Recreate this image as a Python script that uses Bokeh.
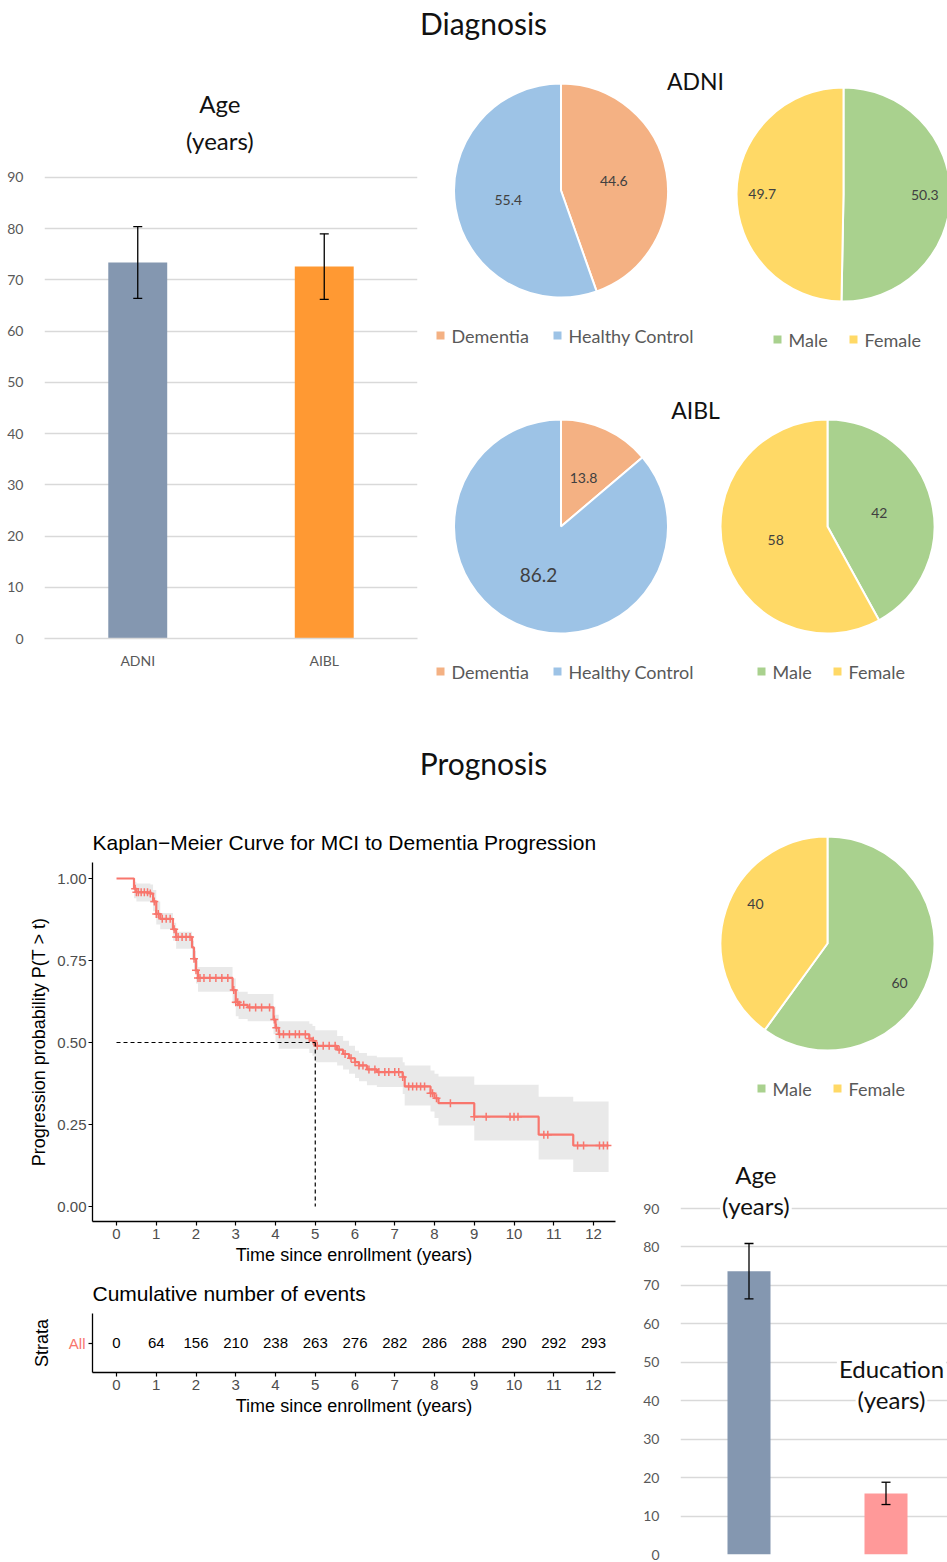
import numpy as np
from bokeh.plotting import figure
from bokeh.layouts import column, row
from bokeh.models import (ColumnDataSource, Range1d, FixedTicker, Whisker, TeeHead,
                          NumeralTickFormatter)
from bokeh.embed import file_html
from bokeh.resources import INLINE
from bokeh.core.properties import value

# ------------------------------------------------------------------ data
age_groups = ["ADNI", "AIBL"]
age_mean = [73.4, 72.6]
age_sd = [7.0, 6.4]

dx_labels = ["Dementia", "Healthy Control"]
adni_dx = [44.6, 55.4]
aibl_dx = [13.8, 86.2]

sex_labels = ["Male", "Female"]
adni_sex = [50.3, 49.7]
aibl_sex = [42, 58]
mci_sex = [60, 40]

mci_vars = ["Age", "Education"]
mci_mean = [73.7, 15.9]
mci_sd = [7.2, 2.9]

km_time = [0, 0.44, 0.5, 0.85, 0.92, 1.0, 1.1, 1.42, 1.5, 1.9, 1.95, 2.0, 2.05,
           2.92, 3.0, 3.07, 3.3, 3.95, 4.0, 4.08, 4.85, 4.93, 5.0, 5.55, 5.7,
           5.85, 6.0, 6.1, 6.3, 6.55, 7.2, 7.25, 7.9, 8.0, 8.1, 9.0, 10.62,
           11.49, 12.38]
km_surv = [1.0, 0.969, 0.958, 0.954, 0.93, 0.892, 0.877, 0.845, 0.822, 0.79,
           0.755, 0.72, 0.697, 0.66, 0.623, 0.615, 0.607, 0.57, 0.545, 0.525,
           0.512, 0.505, 0.49, 0.478, 0.465, 0.452, 0.44, 0.43, 0.418, 0.41,
           0.395, 0.366, 0.345, 0.33, 0.315, 0.274, 0.219, 0.186, 0.186]
km_lower = [1.0, 0.94, 0.93, 0.925, 0.9, 0.86, 0.845, 0.81, 0.786, 0.752,
            0.716, 0.68, 0.655, 0.617, 0.58, 0.572, 0.565, 0.525, 0.5, 0.481,
            0.468, 0.46, 0.44, 0.43, 0.418, 0.405, 0.392, 0.382, 0.37, 0.364,
            0.343, 0.308, 0.29, 0.27, 0.247, 0.201, 0.143, 0.105, 0.105]
km_upper = [1.0, 0.99, 0.985, 0.982, 0.965, 0.93, 0.895, 0.865, 0.838, 0.81,
            0.78, 0.75, 0.73, 0.695, 0.66, 0.655, 0.648, 0.61, 0.585, 0.565,
            0.557, 0.55, 0.537, 0.52, 0.505, 0.49, 0.475, 0.468, 0.46, 0.455,
            0.44, 0.43, 0.415, 0.405, 0.396, 0.371, 0.335, 0.32, 0.32]
censor_time = [0.47, 0.5, 0.55, 0.62, 0.7, 0.78, 0.85, 0.95, 1.0, 1.05, 1.15,
               1.25, 1.35, 1.45, 1.5, 1.55, 1.65, 1.75, 1.85, 1.95, 2.0, 2.05,
               2.1, 2.2, 2.35, 2.5, 2.65, 2.8, 2.95, 3.0, 3.05, 3.1, 3.2, 3.35,
               3.5, 3.65, 3.85, 3.97, 4.02, 4.1, 4.2, 4.35, 4.5, 4.6, 4.75,
               4.85, 4.95, 5.05, 5.2, 5.35, 5.5, 5.6, 5.75, 5.9, 6.0, 6.1, 6.2,
               6.35, 6.5, 6.6, 6.75, 6.85, 7.0, 7.1, 7.2, 7.35, 7.45, 7.55,
               7.65, 7.75, 7.9, 7.95, 8.05, 8.4, 9.0, 9.3, 9.9, 10.0, 10.1,
               10.75, 10.85, 11.6, 11.75, 12.15, 12.25, 12.35]

risk_time = list(range(13))
risk_events = [0, 64, 156, 210, 238, 263, 276, 282, 286, 288, 290, 292, 293]

# ------------------------------------------------------------------ style
XL = "Lato"
RF = "Liberation Sans"
GRID = "#d9d9d9"
TICK = "#595959"
LBL = "#404040"
KM_RED = "#F8766D"
DX_COL = ["#F4B183", "#9DC3E6"]
SEX_COL = ["#A9D18E", "#FFD966"]
BAR1_COL = ["#8497B0", "#FF9933"]
BAR2_COL = ["#8497B0", "#FF9999"]


def blank(w, h, left=0):
    return figure(width=w, height=h, x_range=Range1d(0, w - left), y_range=Range1d(0, h),
                  x_axis_type=None, y_axis_type=None, toolbar_location=None,
                  output_backend="svg", min_border=0, min_border_left=left,
                  outline_line_color=None)


def heading(p, x, y, txt, size):
    p.text(x=[x], y=[y], text=[txt], text_font=value(XL), text_font_size=size,
           text_color="#111111", text_align="center", text_baseline="middle")


def pie(p, cx, cy, r, vals, colors, frac, sizes, shift=0.0):
    total = float(sum(vals))
    cum = np.cumsum([0.0] + list(vals)) / total
    start = np.pi / 2 - 2 * np.pi * cum[:-1]
    end = np.pi / 2 - 2 * np.pi * cum[1:]
    p.wedge(x=cx, y=cy, radius=r, start_angle=start, end_angle=end,
            direction="clock", fill_color=colors, line_color="white", line_width=2)
    mid = (start + end) / 2 - np.deg2rad(shift)
    p.text(x=cx + frac * r * np.cos(mid), y=cy + frac * r * np.sin(mid),
           text=[f"{v:g}" for v in vals], text_font=value(XL),
           text_font_size=sizes, text_color=LBL, text_align="center",
           text_baseline="middle")


def legend(p, xs, y, names, colors):
    xs = np.array(xs, dtype=float)
    p.scatter(x=xs, y=y, marker="square", size=8, fill_color=colors, line_color=None)
    p.text(x=xs + 11, y=y, text=names, text_font=value(XL), text_font_size="18px",
           text_color=TICK, text_align="left", text_baseline="middle")


def excel_bars(p, cats, means, sds, colors, width):
    idx = list(range(len(cats)))
    src = ColumnDataSource(dict(x=idx, top=means, color=colors,
                                lo=[m - s for m, s in zip(means, sds)],
                                hi=[m + s for m, s in zip(means, sds)]))
    p.vbar(x="x", top="top", width=width, fill_color="color", line_color=None, source=src)
    w = Whisker(base="x", lower="lo", upper="hi", source=src,
                line_color="black", line_width=1.3, level="overlay",
                upper_head=TeeHead(size=9, line_color="black", line_width=1.3),
                lower_head=TeeHead(size=9, line_color="black", line_width=1.3))
    p.add_layout(w)
    p.yaxis.ticker = FixedTicker(ticks=list(range(0, 91, 10)))
    p.yaxis.axis_line_color = None
    p.yaxis.major_tick_line_color = None
    p.yaxis.minor_tick_line_color = None
    p.yaxis.major_label_text_font = XL
    p.yaxis.major_label_text_font_size = "14px"
    p.yaxis.major_label_text_color = TICK
    p.yaxis.major_label_standoff = 15
    p.ygrid.grid_line_color = GRID
    p.ygrid.grid_line_width = 1.3


# ------------------------------------------------------------------ headers
h1 = blank(947, 55)
heading(h1, 483, 33, "Diagnosis", "30px")
h2 = blank(947, 100)
heading(h2, 483, 38, "Prognosis", "30px")

# ------------------------------------------------------------------ bar chart 1
b1 = figure(width=430, height=645, x_range=Range1d(-0.5, 1.5), y_range=Range1d(0, 113.8),
            toolbar_location=None, output_backend="svg", outline_line_color=None,
            min_border_left=44, min_border_right=13, min_border_top=0, min_border_bottom=62)
excel_bars(b1, age_groups, age_mean, age_sd, BAR1_COL, 0.316)
b1.xgrid.visible = False
b1.xaxis.ticker = FixedTicker(ticks=list(range(len(age_groups))))
b1.xaxis.major_label_overrides = {i: g for i, g in enumerate(age_groups)}
b1.xaxis.axis_line_color = GRID
b1.xaxis.axis_line_width = 1.3
b1.xaxis.major_tick_line_color = None
b1.xaxis.minor_tick_line_color = None
b1.xaxis.major_label_text_font = XL
b1.xaxis.major_label_text_font_size = "14px"
b1.xaxis.major_label_text_color = TICK
b1.xaxis.major_label_standoff = 7
b1.text(x=[0.44, 0.44], y=[104.4, 97.2], text=["Age", "(years)"], text_font=value(XL),
        text_font_size="24px", text_color="#111111", text_align="center",
        text_baseline="middle")

# ------------------------------------------------------------------ ADNI pies
pa = blank(517, 310)
heading(pa, 265, 285, "ADNI", "23px")
pie(pa, 130.5, 175, 107, adni_dx, DX_COL, 0.5, ["14px", "14px"])
pie(pa, 413, 171, 107, adni_sex, SEX_COL, 0.76, ["14px", "14px"])
legend(pa, [10, 127], 30, dx_labels, DX_COL)
legend(pa, [347, 423], 26, sex_labels, SEX_COL)

# ------------------------------------------------------------------ AIBL pies
pb = blank(517, 335)
heading(pb, 265, 291, "AIBL", "23px")
pie(pb, 130.5, 174, 107, aibl_dx, DX_COL, 0.5, ["14px", "19px"])
pie(pb, 397, 174, 107, aibl_sex, SEX_COL, 0.5, ["14px", "14px"])
legend(pb, [10, 127], 29, dx_labels, DX_COL)
legend(pb, [331, 407], 29, sex_labels, SEX_COL)

# ------------------------------------------------------------------ Kaplan-Meier
def r_axes(p):
    for ax in p.axis:
        ax.axis_line_color = "black"
        ax.axis_line_width = 1.3
        ax.major_tick_line_color = "black"
        ax.major_tick_line_width = 1.2
        ax.major_tick_in = 0
        ax.major_tick_out = 4
        ax.minor_tick_line_color = None
        ax.major_label_text_font = RF
        ax.major_label_text_font_size = "15px"
        ax.major_label_text_color = "#4d4d4d"
        ax.axis_label_text_font = RF
        ax.axis_label_text_font_size = "18px"
        ax.axis_label_text_font_style = "normal"
        ax.axis_label_text_color = "black"
    p.grid.visible = False
    p.title.text_font = RF
    p.title.text_font_size = "21px"
    p.title.text_font_style = "normal"
    p.title.text_color = "black"
    p.title.align = "left"
    p.title.standoff = 18


xr = Range1d(-0.604, 12.553)
km = figure(width=620, height=470, x_range=xr, y_range=Range1d(-0.0457, 1.0488),
            toolbar_location=None, output_backend="svg", outline_line_color=None,
            min_border_left=92, min_border_right=5, min_border_top=62, min_border_bottom=49,
            title="Kaplan\u2212Meier Curve for MCI to Dementia Progression")
r_axes(km)
km.xaxis.ticker = FixedTicker(ticks=risk_time)
km.yaxis.ticker = FixedTicker(ticks=[0, 0.25, 0.5, 0.75, 1.0])
km.yaxis.formatter = NumeralTickFormatter(format="0.00")
km.xaxis.axis_label = "Time since enrollment (years)"
km.yaxis.axis_label = "Progression probability P(T > t)"
km.xaxis.major_label_standoff = 3
km.xaxis.axis_label_standoff = 3
km.yaxis.major_label_standoff = 2
km.yaxis.axis_label_standoff = 5

km.varea_step(x=km_time, y1=km_lower, y2=km_upper, step_mode="after",
              fill_color="#e3e3e3", fill_alpha=0.8)
km.step(x=km_time, y=km_surv, mode="after", line_color=KM_RED, line_width=2.2)
idx = np.searchsorted(np.array(km_time), np.array(censor_time), side="right") - 1
censor_surv = np.array(km_surv)[idx]
km.scatter(x=censor_time, y=censor_surv, marker="cross", size=8,
           line_color=KM_RED, line_width=1.5)
med_t = km_time[next(i for i, s in enumerate(km_surv) if s <= 0.5)]
km.line(x=[0, med_t], y=[0.5, 0.5], line_color="black", line_dash="4 3", line_width=1.2)
km.line(x=[med_t, med_t], y=[0.5, 0], line_color="black", line_dash="4 3", line_width=1.2)

# ------------------------------------------------------------------ risk table
rt = figure(width=620, height=150, x_range=xr, y_range=Range1d(0, 2),
            toolbar_location=None, output_backend="svg", outline_line_color=None,
            min_border_left=92, min_border_right=5, min_border_top=42, min_border_bottom=48,
            title="Cumulative number of events")
r_axes(rt)
rt.xaxis.ticker = FixedTicker(ticks=risk_time)
rt.yaxis.ticker = FixedTicker(ticks=[1])
rt.yaxis.major_label_overrides = {1: "All"}
rt.yaxis.major_label_text_color = KM_RED
rt.yaxis.major_label_standoff = 3
rt.yaxis.axis_label = "Strata"
rt.yaxis.axis_label_standoff = 14
rt.xaxis.axis_label = "Time since enrollment (years)"
rt.xaxis.major_label_standoff = 3
rt.xaxis.axis_label_standoff = 3
rt.text(x=risk_time, y=[1] * len(risk_time), text=[str(v) for v in risk_events],
        text_font=value(RF), text_font_size="15px", text_color="black",
        text_align="center", text_baseline="middle")

# ------------------------------------------------------------------ MCI pie
# frame aligned with the bar chart below (left border 60 px)
pc = blank(327, 310, left=60)
pie(pc, 147, 167, 107, mci_sex, SEX_COL, 0.77, ["14px", "14px"], shift=11)
legend(pc, [81, 157], 22, sex_labels, SEX_COL)

# ------------------------------------------------------------------ bar chart 2
b2 = figure(width=327, height=452, x_range=Range1d(-0.5, -0.5 + 267 / 137),
            y_range=Range1d(0, 115.5), x_axis_type=None,
            toolbar_location=None, output_backend="svg", outline_line_color=None,
            min_border_left=60, min_border_right=0, min_border_top=0, min_border_bottom=8)
excel_bars(b2, mci_vars, mci_mean, mci_sd, BAR2_COL, 0.314)
b2.text(x=[0.05, 0.05], y=[98.9, 90.8], text=[mci_vars[0], "(years)"],
        text_font=value(XL), text_font_size="24px", text_color="#111111",
        text_align="center", text_baseline="middle", background_fill_color="white",
        padding=2)
b2.text(x=[1.04, 1.04], y=[48.4, 40.3], text=[mci_vars[1], "(years)"],
        text_font=value(XL), text_font_size="24px", text_color="#111111",
        text_align="center", text_baseline="middle", background_fill_color="white",
        padding=2)

# ------------------------------------------------------------------ layout
layout = column(h1,
                row(b1, column(pa, pb)),
                h2,
                row(column(km, rt), column(pc, b2)))

open("out.html", "w").write(file_html(layout, INLINE))
